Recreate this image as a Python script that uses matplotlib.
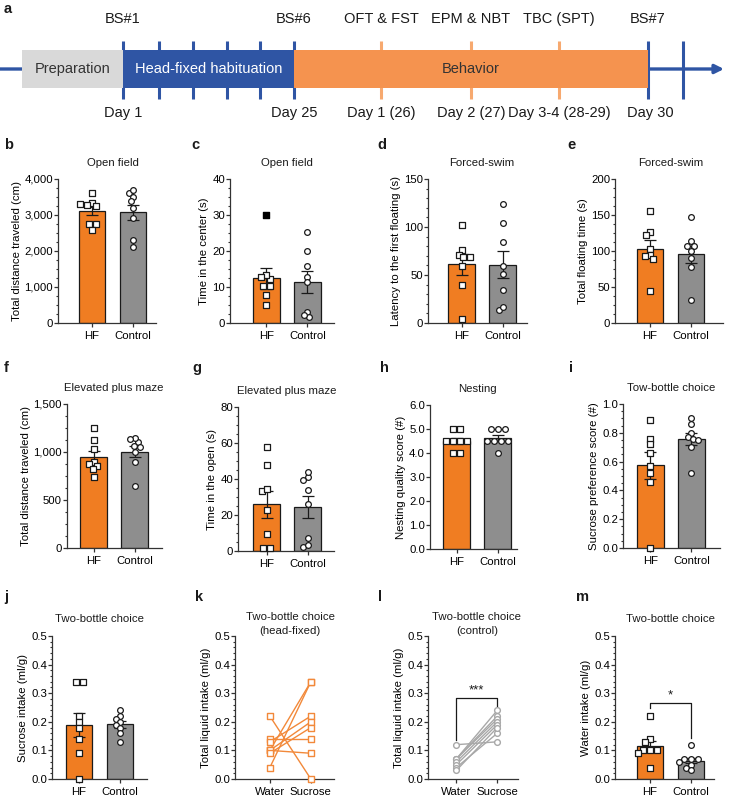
import numpy as np
import matplotlib
matplotlib.use("Agg")
import matplotlib.pyplot as plt
from matplotlib.ticker import MultipleLocator, FuncFormatter, FormatStrFormatter

plt.rcParams['font.family'] = ['Liberation Sans', 'DejaVu Sans']
plt.rcParams['font.size'] = 8.2
plt.rcParams['text.color'] = '#1a1a1a'

W, H = 730, 802
ORANGE = '#F07D22'
GRAY = '#8E8E8E'
K_ORANGE = '#F2893A'
L_GRAY = '#A8A8A8'
AX_COL = '#333333'

# ---- timeline (panel a) ----
stage_names = ["Preparation", "Head-fixed habituation", "Behavior"]
stage_edges = [22, 123, 294, 648]
stage_colors = ['#D9D9D9', '#2F55A4', '#F5934F']
stage_text_colors = ['#333333', 'white', '#333333']
hab_ticks = [123, 159, 193, 227, 260, 294]
test_ticks = [381, 471, 559]
end_ticks = [648, 683]
top_label_pos = [123, 294, 381, 471, 559, 648]
top_labels = ["BS#1", "BS#6", "OFT & FST", "EPM & NBT", "TBC (SPT)", "BS#7"]
bottom_labels = ["Day 1", "Day 25", "Day 1 (26)", "Day 2 (27)", "Day 3-4 (28-29)", "Day 30"]

# ---- bar-panel data ----
groups = ["HF", "Control"]

b_hf = [3618, 3338, 3245, 3310, 3291, 2750, 2750, 2573]
b_ctrl = [3600, 3692, 3506, 3385, 3198, 2918, 2312, 2098]
b_mean = [3105, 3077]
b_sem = [118, 205]

c_hf = [12.2, 13.3, 12.9, 10.3, 10.3, 7.9, 4.9]
c_hf_outlier = [30.0]
c_ctrl = [25.3, 19.9, 15.7, 12.7, 11.3, 3.1, 1.7, 2.1]
c_mean = [12.4, 11.4]
c_sem = [2.9, 3.1]

d_hf = [102.4, 75.7, 71.2, 68.4, 68.4, 59.7, 40.0, 4.2]
d_ctrl = [124.3, 104.2, 84.0, 59.0, 51.4, 34.7, 13.2, 16.7]
d_mean = [61.0, 60.6]
d_sem = [10.5, 14.2]

e_hf = [155, 127, 122.7, 102.8, 95, 93.5, 89.4, 44]
e_ctrl = [146.8, 113.4, 107.4, 107.4, 99.5, 90.3, 77.3, 31.5]
e_mean = [103.3, 95.5]
e_sem = [11.5, 11.5]

f_hf = [1253, 1121, 1030, 894, 880, 853, 820, 741]
f_ctrl = [1103, 1148, 1131, 1065, 1054, 995, 898, 644]
f_mean = [950, 1003]
f_sem = [63, 60]

g_hf = [57.8, 47.6, 33.5, 34.6, 22.6, 9.3, 1.5, 1.5]
g_ctrl = [40.9, 43.7, 39.4, 33.9, 25.9, 7.4, 2.4, 3.5]
g_mean = [25.9, 24.5]
g_sem = [7.3, 6.3]

h_hf = [5.0, 5.0, 4.5, 4.5, 4.5, 4.5, 4.0, 4.0]
h_ctrl = [5.0, 5.0, 5.0, 4.5, 4.5, 4.5, 4.5, 4.0]
h_mean = [4.5, 4.625]
h_sem = [0.134, 0.125]

i_hf = [0.89, 0.76, 0.72, 0.66, 0.57, 0.52, 0.46, 0.0]
i_ctrl = [0.90, 0.86, 0.80, 0.77, 0.76, 0.75, 0.70, 0.52]
i_mean = [0.573, 0.755]
i_sem = [0.095, 0.042]

j_hf = [0.34, 0.34, 0.22, 0.20, 0.18, 0.14, 0.09, 0.0]
j_ctrl = [0.24, 0.22, 0.21, 0.20, 0.19, 0.18, 0.16, 0.13]
j_mean = [0.189, 0.191]
j_sem = [0.042, 0.012]

# paired water / sucrose intake
bottles = ["Water", "Sucrose"]
k_water = [0.22, 0.14, 0.13, 0.10, 0.10, 0.10, 0.09, 0.04]
k_sucrose = [0.0, 0.14, 0.22, 0.34, 0.09, 0.20, 0.18, 0.34]
l_water = [0.12, 0.07, 0.07, 0.07, 0.06, 0.05, 0.04, 0.03]
l_sucrose = [0.13, 0.24, 0.22, 0.21, 0.20, 0.19, 0.16, 0.18]
l_bracket = [0.137, 0.283, 0.253]

m_hf = k_water
m_ctrl = l_water
m_mean = [0.115, 0.064]
m_sem = [0.018, 0.009]
m_bracket = [0.248, 0.267, 0.143]

fig = plt.figure(figsize=(W / 100, H / 100), dpi=100)

# ---------------- panel a ----------------
ax0 = fig.add_axes([0, 1 - 130 / H, 1, 130 / H])
ax0.set_xlim(0, W)
ax0.set_ylim(130, 0)
ax0.axis('off')
ax0.annotate('', xy=(724, 69), xytext=(0, 69), zorder=0,
             arrowprops=dict(arrowstyle='-|>', color='#2F55A4', lw=2.4,
                             mutation_scale=13, shrinkA=0, shrinkB=0))
spans = [(a, b - a) for a, b in zip(stage_edges[:-1], stage_edges[1:])]
ax0.broken_barh(spans, (50, 38), facecolors=stage_colors, zorder=2)
for (x0, w), name, tc in zip(spans, stage_names, stage_text_colors):
    ax0.text(x0 + w / 2, 69, name, ha='center', va='center', color=tc,
             fontsize=10.5, zorder=3)
ax0.vlines(hab_ticks + end_ticks, 41, 99, color='#2F55A4', lw=2.2, zorder=1)
ax0.vlines(test_ticks, 41, 99, color='#F7A96F', lw=2.2, zorder=1)
for x, t, bt in zip(top_label_pos, top_labels, bottom_labels):
    ax0.text(x, 19, t, ha='center', va='center', fontsize=10.5)
    ax0.text(x + (2 if bt == "Day 30" else 0), 113, bt, ha='center',
             va='center', fontsize=10.5)
ax0.text(4, 9, 'a', fontsize=10.5, fontweight='bold', ha='left', va='center')

UNIT = 41.0


def add_ax(left, top, bottom, xlo, xhi):
    width = (xhi - xlo) * UNIT
    ax = fig.add_axes([left / W, 1 - bottom / H, width / W, (bottom - top) / H])
    ax.set_xlim(xlo, xhi)
    return ax


def style(ax, ymax, major, minor, fmt, ylabel, title, letter, letter_xy,
          xlabels, title_gap=16):
    ax.set_ylim(0, ymax)
    for s in ['top', 'right']:
        ax.spines[s].set_visible(False)
    for s in ['left', 'bottom']:
        ax.spines[s].set_color(AX_COL)
        ax.spines[s].set_linewidth(0.9)
    ax.yaxis.set_major_locator(MultipleLocator(major))
    if minor:
        ax.yaxis.set_minor_locator(MultipleLocator(minor))
    ax.yaxis.set_major_formatter(fmt)
    ax.tick_params(axis='y', which='major', length=2.6, width=0.9, pad=1,
                   color=AX_COL, labelsize=8.2)
    ax.tick_params(axis='y', which='minor', length=1.5, width=0.8, color=AX_COL)
    ax.set_xticks([0, 1], xlabels)
    ax.tick_params(axis='x', length=3, width=0.9, pad=3, color=AX_COL,
                   labelsize=8.2)
    ax.set_ylabel(ylabel, labelpad=2, fontsize=8.2)
    ax.annotate(title, xy=(0.5, 1), xycoords=('data', 'axes fraction'),
                xytext=(0, title_gap), textcoords='offset pixels',
                ha='center', va='center', fontsize=8.2, linespacing=1.4)
    fig.text(letter_xy[0] / W, 1 - letter_xy[1] / H, letter, fontsize=10.5,
             fontweight='bold', ha='left', va='center')


def swarm_offsets(vals, ppu, d=5.0, step=7.0):
    """Scatter-dot layout: equal values share a centred row, the rest are
    nudged sideways just enough to avoid overlapping markers (pixel space)."""
    vals = np.asarray(vals, float)
    ypx = vals * ppu
    order = np.argsort(-vals, kind='stable')
    rows = []
    for idx in order:
        if rows and abs(ypx[rows[-1][-1]] - ypx[idx]) < 1.0:
            rows[-1].append(idx)
        else:
            rows.append([idx])
    cands = [0.0] + [s * k * 0.5 for k in range(1, 80) for s in (-1, 1)]
    placed = []
    offs = np.zeros(len(vals))
    for row in rows:
        base = [(k - (len(row) - 1) / 2) * step for k in range(len(row))]
        for sh in cands:
            if all((b + sh - px) ** 2 + (ypx[i] - py) ** 2 >= d * d
                   for b, i in zip(base, row) for px, py in placed):
                break
        for b, i in zip(base, row):
            offs[i] = (b + sh) / UNIT
            placed.append((b + sh, ypx[i]))
    return offs


def bars(ax, hf, ctrl, mean, sem):
    ax.bar([0, 1], mean, width=0.65, color=[ORANGE, GRAY], edgecolor='#1a1a1a',
           linewidth=0.9, zorder=2)
    ax.errorbar([0, 1], mean, yerr=sem, fmt='none', ecolor='#1a1a1a',
                elinewidth=0.9, capsize=4.5, capthick=0.9, zorder=3)
    y0, y1 = ax.get_ylim()
    h_px = ax.get_position().height * H
    ppu = h_px / (y1 - y0)
    for x, vals, mk in [(0, hf, 's'), (1, ctrl, 'o')]:
        offs = swarm_offsets(vals, ppu)
        ax.scatter(x + offs, vals, marker=mk, s=15 if mk == 's' else 17,
                   facecolor='white', edgecolor='#1a1a1a', linewidths=0.9,
                   zorder=4, clip_on=False)


thousands = FuncFormatter(lambda v, p: f"{v:,.0f}")
intfmt = FormatStrFormatter('%d')
onedec = FormatStrFormatter('%.1f')

# ---------------- row 1 ----------------
ax = add_ax(58, 179, 323, -0.83, 1.55)
style(ax, 4000, 1000, 250, thousands, "Total distance traveled (cm)",
      "Open field", 'b', (4, 145), groups)
bars(ax, b_hf, b_ctrl, b_mean, b_sem)

ax = add_ax(230, 179, 323, -0.89, 1.64)
style(ax, 40, 10, 2.5, intfmt, "Time in the center (s)", "Open field", 'c',
      (191, 145), groups)
bars(ax, c_hf, c_ctrl, c_mean, c_sem)
ax.scatter([0] * len(c_hf_outlier), c_hf_outlier, marker='s', s=15,
           color='black', zorder=4)

ax = add_ax(428, 179, 323, -0.82, 1.60)
style(ax, 150, 50, 10, intfmt, "Latency to the first floating (s)",
      "Forced-swim", 'd', (377, 145), groups)
bars(ax, d_hf, d_ctrl, d_mean, d_sem)

ax = add_ax(615, 179, 323, -0.85, 1.78)
style(ax, 200, 50, 12.5, intfmt, "Total floating time (s)", "Forced-swim",
      'e', (567, 145), groups)
bars(ax, e_hf, e_ctrl, e_mean, e_sem)

# ---------------- row 2 ----------------
ax = add_ax(67, 404, 548, -0.65, 1.67)
style(ax, 1500, 500, 125, thousands, "Total distance traveled (cm)",
      "Elevated plus maze", 'f', (4, 368), groups)
bars(ax, f_hf, f_ctrl, f_mean, f_sem)

ax = add_ax(238, 407, 551, -0.70, 1.64)
style(ax, 80, 20, 5, intfmt, "Time in the open (s)", "Elevated plus maze",
      'g', (192, 368), groups)
bars(ax, g_hf, g_ctrl, g_mean, g_sem)

ax = add_ax(430, 405, 549, -0.65, 1.48)
style(ax, 6, 1, None, onedec, "Nesting quality score (#)", "Nesting", 'h',
      (380, 368), groups)
bars(ax, h_hf, h_ctrl, h_mean, h_sem)

ax = add_ax(623, 404, 548, -0.67, 1.70)
style(ax, 1.0, 0.2, 0.05, onedec, "Sucrose preference score (#)",
      "Tow-bottle choice", 'i', (569, 368), groups)
bars(ax, i_hf, i_ctrl, i_mean, i_sem)

# ---------------- row 3 ----------------
ax = add_ax(52, 636, 779, -0.66, 1.66)
style(ax, 0.5, 0.1, 0.02, onedec, "Sucrose intake (ml/g)",
      "Two-bottle choice", 'j', (4, 597), groups, title_gap=17)
bars(ax, j_hf, j_ctrl, j_mean, j_sem)

ax = add_ax(235, 636, 779, -0.85, 1.57)
style(ax, 0.5, 0.1, 0.02, onedec, "Total liquid intake (ml/g)",
      "Two-bottle choice\n(head-fixed)", 'k', (195, 597), bottles, title_gap=12)
for w, s in zip(k_water, k_sucrose):
    ax.plot([0, 1], [w, s], color=K_ORANGE, lw=1.0, zorder=2)
ax.scatter([0] * len(k_water) + [1] * len(k_sucrose), k_water + k_sucrose,
           marker='s', s=17, facecolor='white', edgecolor=K_ORANGE,
           linewidths=1.0, zorder=3, clip_on=False)

ax = add_ax(428, 636, 779, -0.69, 1.50)
style(ax, 0.5, 0.1, 0.02, onedec, "Total liquid intake (ml/g)",
      "Two-bottle choice\n(control)", 'l', (378, 597), bottles, title_gap=12)
for w, s in zip(l_water, l_sucrose):
    ax.plot([0, 1], [w, s], color=L_GRAY, lw=1.0, zorder=2)
ax.scatter([0] * len(l_water) + [1] * len(l_sucrose), l_water + l_sucrose,
           marker='o', s=17, facecolor='white', edgecolor=L_GRAY,
           linewidths=1.0, zorder=3, clip_on=False)
ax.plot([0, 0, 1, 1], [l_bracket[0], l_bracket[1], l_bracket[1], l_bracket[2]],
        color='#1a1a1a', lw=0.9)
ax.text(0.5, l_bracket[1] + 0.004, '***', ha='center', va='bottom',
        fontsize=9.5)

ax = add_ax(615, 636, 779, -0.85, 1.57)
style(ax, 0.5, 0.1, 0.02, onedec, "Water intake (ml/g)", "Two-bottle choice",
      'm', (576, 597), groups, title_gap=17)
bars(ax, m_hf, m_ctrl, m_mean, m_sem)
ax.plot([0, 0, 1, 1], [m_bracket[0], m_bracket[1], m_bracket[1], m_bracket[2]],
        color='#1a1a1a', lw=0.9)
ax.text(0.5, m_bracket[1] + 0.004, '*', ha='center', va='bottom', fontsize=9.5)

fig.savefig('out.png', dpi=100)
